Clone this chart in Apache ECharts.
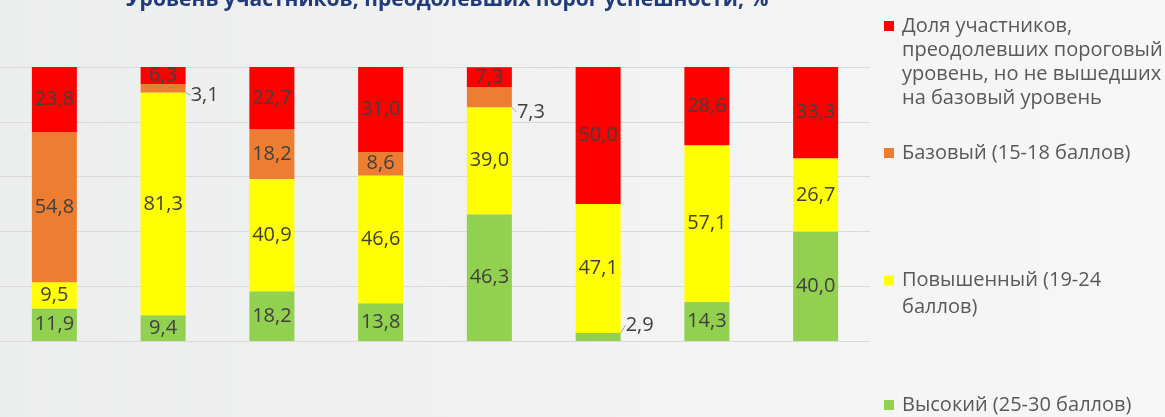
<!DOCTYPE html>
<html>
<head>
<meta charset="utf-8">
<script src="https://cdn.jsdelivr.net/npm/echarts@6/dist/echarts.min.js"></script>
<style>
  html, body { margin: 0; padding: 0; }
  #chart { width: 1165px; height: 417px; }
</style>
</head>
<body>
<div id="chart"></div>
<script>
// данные
const categories = ['1', '2', '3', '4', '5', '6', '7', '8']
const seriesNames = [
  'Высокий (25-30 баллов)',
  'Повышенный (19-24 баллов)',
  'Базовый (15-18 баллов)',
  'Доля участников, преодолевших пороговый уровень, но не вышедших на базовый уровень'
]
const highData = [11.9, 9.4, 18.2, 13.8, 46.3, 2.9, 14.3, 40.0]
const raisedData = [9.5, 81.3, 40.9, 46.6, 39.0, 47.1, 57.1, 26.7]
const baseData = [54.8, 3.1, 18.2, 8.6, 7.3, null, null, null]
const thresholdData = [23.8, 6.3, 22.7, 31.0, 7.3, 50.0, 28.6, 33.3]

const colors = ['#92d050', '#ffff00', '#ed7d31', '#ff0000']
const fontFamily = '"Open Sans", "DejaVu Sans", sans-serif'

function fmt (p) {
  if (p.value == null) return ''
  return p.value.toFixed(1).replace('.', ',')
}

// маленькие значения подписываются сбоку, со сноской
// ключ - индекс столбца, значение - сдвиг по вертикали
function outsideLayout (shifts) {
  return function (params) {
    if (!(params.dataIndex in shifts)) return {}
    return {
      x: params.rect.x + params.rect.width + 5,
      y: params.rect.y + params.rect.height / 2 + shifts[params.dataIndex],
      align: 'left',
      verticalAlign: 'middle'
    }
  }
}

let labelBase = {
  show: true,
  position: 'inside',
  formatter: fmt,
  color: '#404040',
  fontSize: 20,
  fontFamily: fontFamily
}

let legendText = { color: '#595959', fontSize: 20, lineHeight: 24, fontFamily: fontFamily, padding: [0, 0, 0, 3] }

let myChart = echarts.init(document.getElementById('chart'))
myChart.setOption({
  backgroundColor: {
    type: 'linear',
    x: 0, y: 0, x2: 1, y2: 0,
    colorStops: [
      { offset: 0, color: '#eceded' },
      { offset: 1, color: '#f7f7f7' }
    ]
  },
  title: {
    text: 'Уровень участников, преодолевших порог успешности, %',
    left: 442,
    top: -15,
    textAlign: 'center',
    textStyle: {
      color: '#1f3b78',
      fontSize: 21,
      fontWeight: 'bold',
      fontFamily: fontFamily
    }
  },
  legend: [
    {
      data: [seriesNames[3]],
      left: 884,
      top: -58,
      padding: 0,
      itemWidth: 10,
      itemHeight: 10,
      icon: 'rect',
      formatter: function () {
        return '\n\n\nДоля участников,\nпреодолевших пороговый\nуровень, но не вышедших\nна базовый уровень'
      },
      textStyle: legendText
    },
    {
      data: [seriesNames[2]],
      left: 884,
      top: 141,
      padding: 0,
      itemWidth: 10,
      itemHeight: 10,
      icon: 'rect',
      textStyle: legendText
    },
    {
      data: [seriesNames[1]],
      left: 884,
      top: 240,
      padding: 0,
      itemWidth: 10,
      itemHeight: 10,
      icon: 'rect',
      formatter: function () {
        return '\nПовышенный (19-24\nбаллов)'
      },
      textStyle: Object.assign({}, legendText, { lineHeight: 27 })
    },
    {
      data: [seriesNames[0]],
      left: 884,
      top: 393,
      padding: 0,
      itemWidth: 10,
      itemHeight: 10,
      icon: 'rect',
      textStyle: legendText
    }
  ],
  grid: {
    left: -20,
    right: 295,
    top: 67,
    bottom: 76,
    containLabel: false
  },
  xAxis: {
    type: 'category',
    data: categories,
    axisLine: { show: false },
    axisTick: { show: false },
    axisLabel: { show: false }
  },
  yAxis: {
    type: 'value',
    min: 0,
    max: 100,
    interval: 20,
    axisLabel: { show: false },
    axisLine: { show: false },
    axisTick: { show: false },
    splitLine: {
      lineStyle: { color: '#d9d9d9', width: 1 }
    }
  },
  series: [
    {
      name: seriesNames[0],
      type: 'bar',
      stack: 'total',
      barWidth: 45,
      data: highData,
      itemStyle: { color: colors[0] },
      label: labelBase,
      labelLayout: outsideLayout({ 5: -12 }),
      labelLine: { show: true, lineStyle: { color: '#a6a6a6', width: 1 } }
    },
    {
      name: seriesNames[1],
      type: 'bar',
      stack: 'total',
      barWidth: 45,
      data: raisedData,
      itemStyle: { color: colors[1] },
      label: labelBase
    },
    {
      name: seriesNames[2],
      type: 'bar',
      stack: 'total',
      barWidth: 45,
      data: baseData,
      itemStyle: { color: colors[2] },
      label: labelBase,
      labelLayout: outsideLayout({ 1: 7, 4: 15 }),
      labelLine: { show: true, lineStyle: { color: '#a6a6a6', width: 1 } }
    },
    {
      name: seriesNames[3],
      type: 'bar',
      stack: 'total',
      barWidth: 45,
      data: thresholdData,
      itemStyle: { color: colors[3] },
      label: labelBase
    }
  ]
})
</script>
</body>
</html>
